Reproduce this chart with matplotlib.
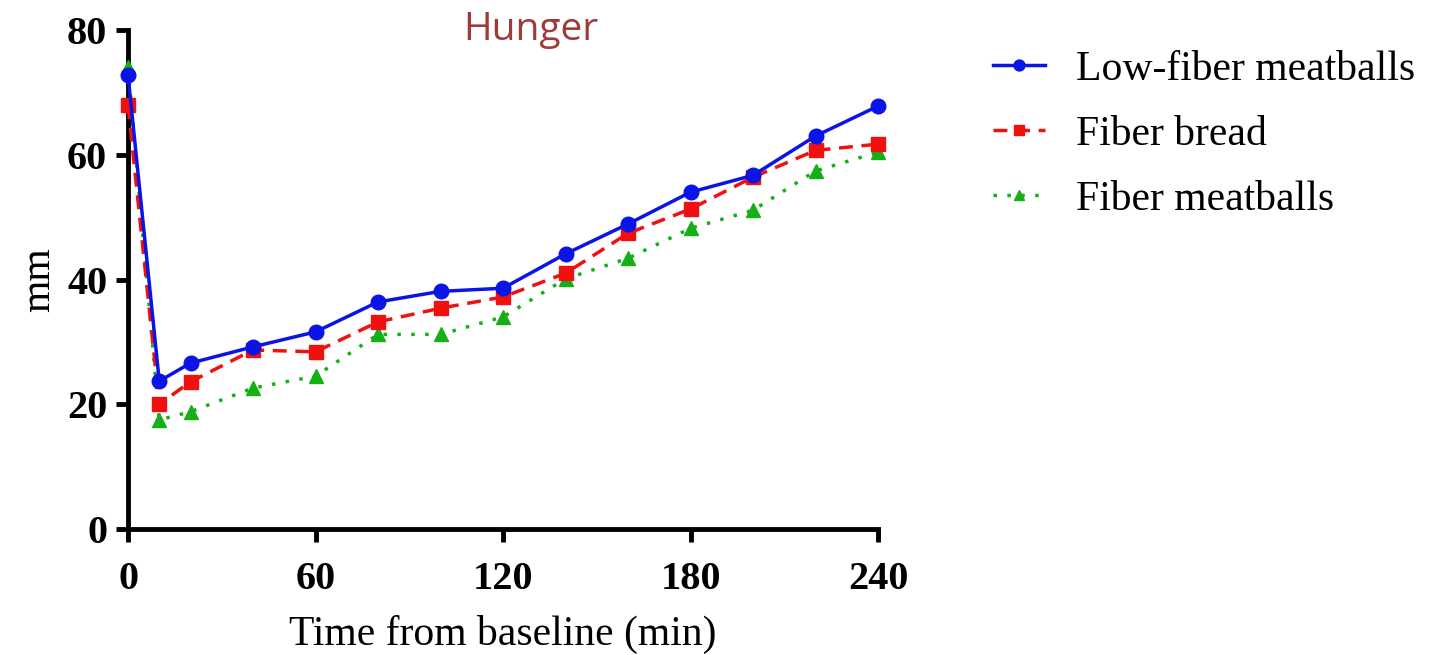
import matplotlib
matplotlib.use("Agg")
import matplotlib.pyplot as plt

# time points (min) and hunger ratings (mm)
time_min = [0, 10, 20, 40, 60, 80, 100, 120, 140, 160, 180, 200, 220, 240]
low_fiber_meatballs = [72.8, 23.7, 26.6, 29.2, 31.6, 36.4, 38.1, 38.6, 44.1, 48.9, 54.0, 56.7, 63.0, 67.8]
fiber_bread = [67.9, 20.0, 23.6, 28.7, 28.4, 33.2, 35.4, 37.2, 41.0, 47.4, 51.3, 56.4, 60.7, 61.7]
fiber_meatballs = [74.0, 17.5, 18.8, 22.6, 24.5, 31.2, 31.2, 34.0, 40.1, 43.4, 48.2, 51.1, 57.4, 60.4]

x_ticks = [0, 60, 120, 180, 240]
y_ticks = [0, 20, 40, 60, 80]

serif = "Liberation Serif"

fig = plt.figure(figsize=(14.34, 6.55), dpi=100)
ax = fig.add_axes([128 / 1434, 126 / 655, 750 / 1434, 499 / 655])

ax.plot(time_min, low_fiber_meatballs, color="#0a14e6", linestyle="-", linewidth=2.5,
        marker="o", markersize=10.5, label="Low-fiber meatballs", clip_on=False, zorder=5)
ax.plot(time_min, fiber_bread, color="#f01010", linestyle=(0, (4, 2.5)), linewidth=2.5,
        marker="s", markersize=10, label="Fiber bread", clip_on=False, zorder=4)
ax.plot(time_min, fiber_meatballs, color="#16b016", linestyle=(0, (1, 3)), linewidth=2.5,
        marker="^", markersize=10.5, label="Fiber meatballs", clip_on=False, zorder=3)

ax.set_xlim(0, 240)
ax.set_ylim(0, 80)
ax.set_xticks(x_ticks)
ax.set_yticks(y_ticks)

for side in ["top", "right"]:
    ax.spines[side].set_visible(False)
for side in ["left", "bottom"]:
    ax.spines[side].set_linewidth(3.5)
ax.tick_params(axis="both", direction="out", length=9, width=3.5)
ax.tick_params(axis="x", pad=14)
ax.tick_params(axis="y", pad=6)

for lab in ax.get_xticklabels() + ax.get_yticklabels():
    lab.set_fontfamily(serif)
    lab.set_fontweight("bold")
    lab.set_fontsize(29)

ax.set_xlabel("Time from baseline (min)", fontfamily=serif, fontsize=30, labelpad=12)
ax.set_ylabel("mm", fontfamily=serif, fontsize=30, labelpad=6)

fig.text(531 / 1434, 1 - 30 / 655, "Hunger", ha="center", va="center",
         fontfamily="Open Sans", fontsize=28, color="#a03a3a")

leg = ax.legend(loc="upper left", bbox_to_anchor=(955 / 1434, 1 - 13 / 655),
                bbox_transform=fig.transFigure, frameon=False,
                prop={"family": serif, "size": 30},
                handlelength=1.25, handletextpad=0.75, labelspacing=0.63, markerscale=0.75)

fig.savefig("out.png", dpi=100)
